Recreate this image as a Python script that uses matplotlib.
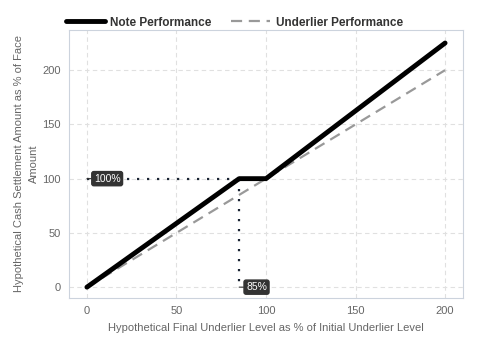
import matplotlib
matplotlib.use('Agg')
import matplotlib.pyplot as plt

plt.rcParams['font.family'] = ['Liberation Sans', 'DejaVu Sans']

underlier = [0, 85, 100, 200]
note = [0, 100, 100, 225]
under_x = [0, 200]
under_y = [0, 200]
barrier_x = 85
cap_y = 100

fig = plt.figure(figsize=(4.8, 3.6), dpi=100)
ax = fig.add_axes([69 / 480, 62 / 360, 394 / 480, 268 / 360])

grid = '#e0e0e0'
ax.grid(True, color=grid, linestyle=(0, (4, 3)), linewidth=0.8)
ax.set_axisbelow(True)

ax.plot([0, barrier_x], [cap_y, cap_y], color='#1a2433', linestyle=(0, (1, 3.5)),
        linewidth=1.6, zorder=2)
ax.plot([barrier_x, barrier_x], [cap_y, 0], color='#1a2433', linestyle=(0, (1, 3.5)),
        linewidth=1.6, zorder=2)

ln1, = ax.plot(underlier, note, color='black', linewidth=3.5,
               solid_capstyle='round', zorder=4, label='Note Performance')
ln2, = ax.plot(under_x, under_y, color='#999999', linewidth=1.6,
               linestyle=(0, (5, 3)), zorder=3, label='Underlier Performance')

box = dict(boxstyle='round,pad=0.2', fc='#333333', ec='#333333')
for x, y, txt in [(0, cap_y, '100%'), (barrier_x, 0, '85%')]:
    ax.annotate(txt, (x, y), xytext=(5, 0), textcoords='offset points',
                ha='left', va='center', color='white', fontsize=7.5, bbox=box,
                arrowprops=dict(arrowstyle='-', color='#333333', lw=0.8,
                                shrinkA=0, shrinkB=0), zorder=6)

ax.set_xlim(-10, 210)
ax.set_ylim(-10, 237)
ax.set_xticks([0, 50, 100, 150, 200])
ax.set_yticks([0, 50, 100, 150, 200])
ax.tick_params(colors='#666666', labelsize=8, length=0, pad=6)
for s in ax.spines.values():
    s.set_color('#ccd3dd')

ax.set_xlabel('Hypothetical Final Underlier Level as % of Initial Underlier Level',
              color='#666666', fontsize=8, labelpad=5)
ax.set_ylabel('Hypothetical Cash Settlement Amount as % of Face\nAmount',
              color='#666666', fontsize=8, linespacing=1.6)
ax.yaxis.set_label_coords(-0.076, 0.5)

leg = fig.legend(handles=[ln1, ln2], loc='upper left', bbox_to_anchor=(55 / 480, 1 - 6 / 360),
                 ncol=2, frameon=False, fontsize=8.5, handlelength=3.3,
                 columnspacing=1.6, handletextpad=0.5)
for t in leg.get_texts():
    t.set_fontweight('bold')
    t.set_color('#333333')

fig.savefig('out.png', dpi=100)
